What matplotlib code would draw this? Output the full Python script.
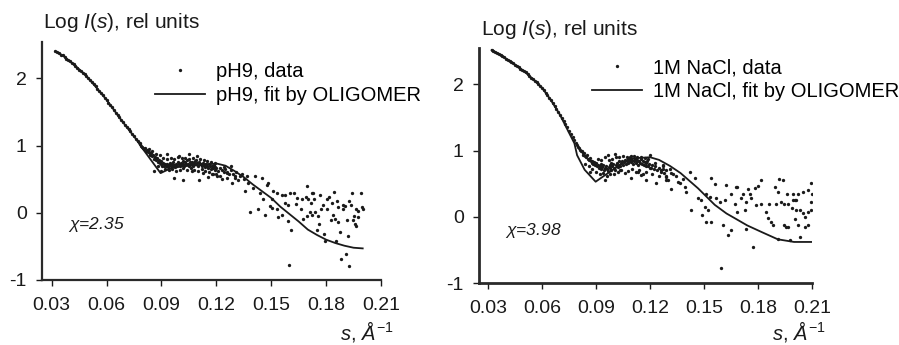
import matplotlib
matplotlib.use("Agg")
import matplotlib.pyplot as plt

plt.rcParams['font.family'] = ['Liberation Sans', 'DejaVu Sans']
plt.rcParams['mathtext.fontset'] = 'custom'
plt.rcParams['mathtext.rm'] = 'Liberation Sans'
plt.rcParams['mathtext.it'] = 'Liberation Sans:italic'

# ---------------- Left panel (pH9) ----------------
ph9_fit_s = [0.032, 0.036, 0.040, 0.044, 0.048, 0.052, 0.056, 0.060, 0.064, 0.068,
             0.072, 0.076, 0.079, 0.0895, 0.095, 0.100, 0.107, 0.114, 0.1205, 0.125,
             0.130, 0.135, 0.140, 0.145, 0.150, 0.155, 0.160, 0.165, 0.170, 0.175,
             0.180, 0.185, 0.190, 0.195, 0.200]
ph9_fit_y = [2.40, 2.34, 2.25, 2.16, 2.06, 1.94, 1.81, 1.68, 1.53, 1.38,
             1.24, 1.10, 0.98, 0.59, 0.66, 0.69, 0.70, 0.72, 0.73, 0.70,
             0.62, 0.53, 0.42, 0.32, 0.22, 0.09, -0.02, -0.13, -0.25, -0.33,
             -0.40, -0.45, -0.49, -0.52, -0.53]

ph9_s = [0.032, 0.033, 0.034, 0.035, 0.036, 0.037, 0.038, 0.039, 0.040, 0.041,
         0.042, 0.043, 0.044, 0.045, 0.046, 0.047, 0.048, 0.049, 0.050, 0.051,
         0.052, 0.053, 0.054, 0.055, 0.056, 0.057, 0.058, 0.059, 0.060, 0.061,
         0.062, 0.063, 0.064, 0.065, 0.066, 0.067, 0.068, 0.069, 0.070, 0.071,
         0.072, 0.073, 0.074, 0.075, 0.076, 0.077, 0.078,
         0.0785, 0.079, 0.0795, 0.080, 0.0805, 0.081, 0.0815, 0.082, 0.0825, 0.083,
         0.0835, 0.084, 0.0845, 0.085, 0.0855, 0.086, 0.0865, 0.087, 0.0875, 0.088,
         0.0885, 0.089, 0.0895, 0.090, 0.0905, 0.091, 0.0915, 0.092, 0.0925, 0.093,
         0.0935, 0.094, 0.0945, 0.095, 0.0955, 0.096, 0.0965, 0.097, 0.0975, 0.098,
         0.0985, 0.099, 0.0995, 0.100, 0.1005, 0.101, 0.1015, 0.102, 0.1025, 0.103,
         0.1035, 0.104, 0.1045, 0.105, 0.1055, 0.106, 0.1065, 0.107, 0.1075, 0.108,
         0.1085, 0.109, 0.1095, 0.110, 0.1105, 0.111, 0.1115, 0.112, 0.1125, 0.113,
         0.1135, 0.114, 0.1145, 0.115, 0.1155, 0.116, 0.1165, 0.117, 0.1175, 0.118,
         0.1185, 0.119, 0.1195, 0.120, 0.121, 0.122, 0.123, 0.124, 0.125, 0.126,
         0.127, 0.128, 0.129,
         0.0859, 0.0968, 0.1019, 0.1052, 0.0997, 0.1096, 0.0932, 0.1107, 0.1156, 0.1202,
         0.1229, 0.1284, 0.1256, 0.1300, 0.1065, 0.1128, 0.1174,
         0.083, 0.085, 0.087, 0.088, 0.089, 0.090, 0.091, 0.092, 0.093, 0.094,
         0.095, 0.096, 0.097, 0.098, 0.099, 0.100, 0.101, 0.102, 0.103, 0.104,
         0.105, 0.106, 0.107, 0.108, 0.109, 0.110, 0.111, 0.112, 0.113, 0.114,
         0.115, 0.116, 0.117, 0.118, 0.119, 0.120, 0.122, 0.124, 0.126, 0.128,
         0.131, 0.133, 0.135, 0.137,
         0.1411, 0.1448, 0.1484, 0.1475, 0.1374, 0.1320, 0.1356, 0.1402, 0.1438, 0.1456,
         0.1511, 0.1530, 0.1502, 0.1557, 0.1575, 0.1602, 0.1626, 0.1639, 0.1666, 0.1688,
         0.1702, 0.1721, 0.1694, 0.1575, 0.1593, 0.1633, 0.1662, 0.1502, 0.1530, 0.1493,
         0.1466, 0.1384, 0.1426, 0.1538, 0.1557, 0.1711, 0.1694, 0.1675, 0.1593, 0.1608,
         0.1597, 0.1338, 0.1302,
         0.1726, 0.1767, 0.1803, 0.1817, 0.1843, 0.1939, 0.1989, 0.1733, 0.1717, 0.1781,
         0.1830, 0.1857, 0.1893, 0.1926, 0.1934, 0.1772, 0.1803, 0.1863, 0.1890, 0.1903,
         0.1963, 0.1975, 0.1994, 0.2003, 0.1739, 0.1721, 0.1757, 0.1836, 0.1825, 0.1848,
         0.1866, 0.1912, 0.1945, 0.1975, 0.1952, 0.1762, 0.1957, 0.1966, 0.1748, 0.1788,
         0.1793, 0.1854, 0.1875, 0.1921, 0.1879, 0.1908, 0.1926]
ph9_y = [2.40, 2.39, 2.37, 2.35, 2.34, 2.32, 2.29, 2.27, 2.25, 2.23,
         2.21, 2.18, 2.16, 2.13, 2.11, 2.08, 2.06, 2.03, 2.00, 1.97,
         1.94, 1.91, 1.88, 1.84, 1.81, 1.78, 1.75, 1.71, 1.68, 1.64,
         1.61, 1.57, 1.53, 1.49, 1.46, 1.42, 1.38, 1.35, 1.31, 1.28,
         1.24, 1.21, 1.17, 1.14, 1.10, 1.07, 1.04,
         1.02, 1.00, 0.98, 0.97, 0.95, 0.96, 0.92, 0.93, 0.90, 0.91,
         0.88, 0.86, 0.89, 0.84, 0.86, 0.80, 0.83, 0.78, 0.81, 0.76,
         0.79, 0.74, 0.77, 0.72, 0.70, 0.74, 0.69, 0.72, 0.70, 0.73,
         0.68, 0.71, 0.74, 0.69, 0.72, 0.70, 0.75, 0.71, 0.68, 0.73,
         0.70, 0.76, 0.72, 0.69, 0.74, 0.71, 0.77, 0.73, 0.70, 0.75,
         0.72, 0.78, 0.73, 0.70, 0.75, 0.72, 0.76, 0.73, 0.70, 0.74,
         0.77, 0.72, 0.74, 0.70, 0.75, 0.72, 0.73, 0.69, 0.74, 0.71,
         0.72, 0.68, 0.73, 0.70, 0.66, 0.72, 0.69, 0.65, 0.70, 0.67,
         0.71, 0.64, 0.68, 0.66, 0.62, 0.67, 0.63, 0.60, 0.65, 0.61,
         0.58, 0.63, 0.57,
         0.62, 0.52, 0.48, 0.88, 0.84, 0.85, 0.87, 0.49, 0.53, 0.54,
         0.50, 0.45, 0.59, 0.54, 0.62, 0.59, 0.57,
         0.95, 0.92, 0.88, 0.70, 0.86, 0.62, 0.82, 0.65, 0.80, 0.63,
         0.82, 0.65, 0.80, 0.62, 0.83, 0.64, 0.81, 0.66, 0.82, 0.63,
         0.80, 0.67, 0.82, 0.64, 0.79, 0.62, 0.80, 0.65, 0.78, 0.62,
         0.77, 0.60, 0.76, 0.58, 0.74, 0.57, 0.55, 0.68, 0.52, 0.70,
         0.60, 0.55, 0.50, 0.55,
         0.54, 0.52, 0.45, 0.42, 0.45, 0.49, 0.32, 0.37, 0.30, 0.20,
         0.32, 0.30, 0.21, 0.26, 0.27, 0.29, 0.30, 0.22, 0.21, 0.24,
         0.21, 0.30, 0.40, 0.15, 0.12, 0.13, 0.06, 0.07, 0.06, 0.10,
         -0.04, 0.01, 0.06, -0.07, -0.03, 0.01, -0.05, -0.10, -0.12, -0.25,
         -0.78, 0.57, 0.52,
         0.29, 0.26, 0.20, 0.24, 0.31, 0.30, 0.29, 0.20, 0.15, 0.11,
         0.15, 0.17, 0.12, 0.18, 0.12, 0.05, 0.06, 0.08, 0.06, 0.10,
         0.06, 0.02, 0.09, 0.05, 0.01, -0.04, -0.05, -0.04, -0.11, -0.09,
         -0.14, -0.11, -0.11, -0.06, -0.05, -0.17, -0.16, -0.20, -0.25, -0.31,
         -0.42, -0.42, -0.29, -0.35, -0.69, -0.62, -0.79]

# ---------------- Right panel (1M NaCl) ----------------
nacl_fit_s = [0.032, 0.036, 0.040, 0.045, 0.050, 0.055, 0.060, 0.065, 0.070, 0.075,
              0.078, 0.0795, 0.0837, 0.0898, 0.094, 0.0994, 0.106, 0.109, 0.120, 0.125,
              0.131, 0.137, 0.1467, 0.156, 0.1625, 0.167, 0.174, 0.182, 0.191, 0.200,
              0.210]
nacl_fit_y = [2.52, 2.46, 2.39, 2.30, 2.20, 2.08, 1.95, 1.76, 1.54, 1.27,
              1.11, 0.93, 0.71, 0.53, 0.61, 0.71, 0.83, 0.88, 0.90, 0.86,
              0.77, 0.66, 0.43, 0.18, 0.05, -0.02, -0.13, -0.23, -0.34, -0.38,
              -0.38]

nacl_s = [0.032, 0.033, 0.034, 0.035, 0.036, 0.037, 0.038, 0.039, 0.040, 0.041,
          0.042, 0.043, 0.044, 0.045, 0.046, 0.047, 0.048, 0.049, 0.050, 0.051,
          0.052, 0.053, 0.054, 0.055, 0.056, 0.057, 0.058, 0.059, 0.060, 0.061,
          0.062, 0.063, 0.064, 0.065, 0.066, 0.067, 0.068, 0.069, 0.070, 0.071,
          0.072, 0.073, 0.074, 0.075, 0.076, 0.077, 0.078, 0.079,
          0.0795, 0.080, 0.0805, 0.081, 0.0815, 0.082, 0.0825, 0.083, 0.0835, 0.084,
          0.0845, 0.085, 0.0855, 0.086, 0.0865, 0.087, 0.0875, 0.088, 0.0885, 0.089,
          0.0895, 0.090, 0.0905, 0.091, 0.0915, 0.092, 0.0925, 0.093, 0.0935, 0.094,
          0.0945, 0.095, 0.0955, 0.096, 0.0965, 0.097, 0.0975, 0.098, 0.0985, 0.099,
          0.0995, 0.100, 0.1005, 0.101, 0.1015, 0.102, 0.1025, 0.103, 0.1035, 0.104,
          0.1045, 0.105, 0.1055, 0.106, 0.1065, 0.107, 0.1075, 0.108, 0.1085, 0.109,
          0.1095, 0.110, 0.1105, 0.111, 0.1115, 0.112, 0.1125, 0.113, 0.1135, 0.114,
          0.1145, 0.115, 0.1155, 0.116, 0.1165, 0.117, 0.1175, 0.118, 0.1185, 0.119,
          0.1195, 0.120, 0.121, 0.122, 0.123, 0.124, 0.125, 0.126, 0.127, 0.128,
          0.129,
          0.0948, 0.0865, 0.0967, 0.1004, 0.1097, 0.1198, 0.1032, 0.1097, 0.1133, 0.1152,
          0.1180, 0.1208, 0.1236, 0.1263, 0.1291, 0.1272, 0.0986,
          0.084, 0.086, 0.088, 0.090, 0.091, 0.092, 0.093, 0.094, 0.095, 0.096,
          0.097, 0.098, 0.099, 0.100, 0.101, 0.102, 0.103, 0.104, 0.105, 0.106,
          0.107, 0.108, 0.109, 0.110, 0.111, 0.112, 0.113, 0.114, 0.115, 0.116,
          0.117, 0.118, 0.119, 0.121, 0.123, 0.125, 0.127, 0.129, 0.131, 0.133,
          0.1319, 0.1347, 0.1300, 0.1365, 0.1393, 0.1421, 0.1448, 0.1319, 0.1402, 0.1467,
          0.1486, 0.1513, 0.1541, 0.1560, 0.1532, 0.1569, 0.1587, 0.1615, 0.1624, 0.1652,
          0.1680, 0.1672, 0.1503, 0.1522, 0.1430, 0.1489, 0.1513, 0.1541, 0.1606, 0.1652,
          0.1633, 0.1597, 0.1291, 0.1356, 0.1383,
          0.1686, 0.1717, 0.1744, 0.1754, 0.1782, 0.1800, 0.1815, 0.1708, 0.1736, 0.1763,
          0.1791, 0.1819, 0.1681, 0.1728, 0.1845, 0.1854, 0.1873, 0.1882, 0.1863, 0.1900,
          0.1927, 0.1946, 0.1964, 0.1894, 0.1919, 0.1941, 0.1913, 0.1959, 0.1996, 0.2024,
          0.2052, 0.2080, 0.2096, 0.2098, 0.1996, 0.2005, 0.2013, 0.1987, 0.2013, 0.2032,
          0.2052, 0.2061, 0.2080, 0.2094, 0.2097, 0.2005, 0.2024, 0.2061, 0.2078, 0.1946,
          0.1955, 0.1964, 0.2032, 0.1911, 0.1976, 0.1772, 0.1736]
nacl_y = [2.52, 2.51, 2.49, 2.48, 2.46, 2.45, 2.43, 2.41, 2.39, 2.37,
          2.35, 2.34, 2.32, 2.30, 2.28, 2.26, 2.24, 2.22, 2.20, 2.18,
          2.15, 2.13, 2.10, 2.08, 2.05, 2.03, 2.00, 1.98, 1.95, 1.91,
          1.87, 1.84, 1.80, 1.76, 1.72, 1.67, 1.63, 1.58, 1.54, 1.50,
          1.45, 1.40, 1.35, 1.30, 1.25, 1.21, 1.16, 1.12,
          1.09, 1.06, 1.04, 1.01, 0.99, 1.00, 0.96, 0.94, 0.97, 0.92,
          0.90, 0.93, 0.88, 0.86, 0.89, 0.84, 0.82, 0.85, 0.80, 0.83,
          0.78, 0.81, 0.76, 0.79, 0.74, 0.77, 0.80, 0.72, 0.75, 0.78,
          0.70, 0.74, 0.77, 0.72, 0.69, 0.75, 0.79, 0.73, 0.70, 0.76,
          0.80, 0.74, 0.71, 0.78, 0.82, 0.75, 0.79, 0.84, 0.77, 0.81,
          0.85, 0.79, 0.83, 0.86, 0.80, 0.84, 0.87, 0.82, 0.85, 0.88,
          0.83, 0.86, 0.80, 0.85, 0.87, 0.82, 0.86, 0.84, 0.79, 0.85,
          0.82, 0.87, 0.80, 0.84, 0.78, 0.83, 0.76, 0.81, 0.85, 0.77,
          0.80, 0.74, 0.78, 0.72, 0.76, 0.70, 0.74, 0.68, 0.72, 0.66,
          0.70,
          0.56, 0.68, 0.93, 0.95, 0.92, 0.93, 0.71, 0.59, 0.68, 0.63,
          0.56, 0.73, 0.51, 0.71, 0.56, 0.76, 0.81,
          0.80, 0.76, 0.72, 0.68, 0.88, 0.64, 0.86, 0.66, 0.90, 0.62,
          0.86, 0.64, 0.88, 0.65, 0.91, 0.68, 0.90, 0.70, 0.92, 0.66,
          0.91, 0.69, 0.90, 0.72, 0.92, 0.67, 0.90, 0.70, 0.91, 0.65,
          0.89, 0.68, 0.88, 0.64, 0.82, 0.62, 0.79, 0.60, 0.72, 0.65,
          0.66, 0.61, 0.56, 0.51, 0.45, 0.68, 0.58, 0.42, 0.38, 0.28,
          0.25, 0.35, 0.58, 0.50, 0.30, 0.28, 0.23, 0.25, 0.48, 0.35,
          0.45, 0.20, 0.15, 0.11, 0.10, 0.03, -0.08, -0.08, -0.13, -0.20,
          -0.28, -0.78, 0.62, 0.53, 0.57,
          0.45, 0.35, 0.42, 0.35, 0.43, 0.47, 0.56, 0.28, 0.23, 0.28,
          0.18, 0.20, 0.08, 0.10, 0.08, -0.02, -0.08, -0.13, 0.20, 0.20,
          0.23, 0.20, 0.20, 0.45, 0.57, 0.55, 0.38, 0.35, 0.35, 0.35,
          0.38, 0.40, 0.51, 0.35, 0.26, 0.26, 0.26, 0.13, 0.10, 0.10,
          0.05, 0.00, 0.08, 0.23, 0.10, -0.04, -0.13, -0.15, -0.13, -0.13,
          -0.15, -0.15, -0.31, -0.34, -0.35, -0.46, -0.19]

y_ticks = [-1, 0, 1, 2]
x_ticks = [0.03, 0.06, 0.09, 0.12, 0.15, 0.18, 0.21]
x_tick_labels = ['0.03', '0.06', '0.09', '0.12', '0.15', '0.18', '0.21']

W, H = 899, 345
fig = plt.figure(figsize=(W / 100, H / 100), dpi=100)

ink = '#1a1a1a'

def setup(ax, xlim, ylim, spine_lw):
    ax.set_xlim(*xlim)
    ax.set_ylim(*ylim)
    for side in ('top', 'right'):
        ax.spines[side].set_visible(False)
    for side in ('left', 'bottom'):
        ax.spines[side].set_linewidth(spine_lw)
        ax.spines[side].set_color('#2a2a2a')
    ax.set_xticks(x_ticks)
    ax.set_xticklabels(x_tick_labels)
    ax.set_yticks(y_ticks)
    ax.set_yticklabels([str(v) for v in y_ticks])
    ax.tick_params(axis='x', direction='out', length=4, width=1.0, pad=8,
                   labelsize=14, colors=ink)
    ax.tick_params(axis='y', direction='out', length=4, width=1.0, pad=7,
                   labelsize=14, colors=ink)
    ax.patch.set_alpha(0)

def px_axes(x0, y0, x1, y1):
    return fig.add_axes([x0 / W, 1 - y1 / H, (x1 - x0) / W, (y1 - y0) / H])

panels = [
    dict(box=(42, 42, 381, 280), xlim=(0.0247, 0.21), ylim=(-1, 2.54), lw=1.6,
         s=ph9_s, y=ph9_y, fs=ph9_fit_s, fy=ph9_fit_y,
         labels=('pH9, data', 'pH9, fit by OLIGOMER'), legend_x=155, legend_y=62,
         chi=r'$\chi$=2.35', chi_pos=(0.0389, -0.17),
         ylab_pos=(43, 28), xlab_pos=(340, 340)),
    dict(box=(479, 48, 812, 283), xlim=(0.025, 0.21), ylim=(-1, 2.55), lw=2.0,
         s=nacl_s, y=nacl_y, fs=nacl_fit_s, fy=nacl_fit_y,
         labels=('1M NaCl, data', '1M NaCl, fit by OLIGOMER'), legend_x=592, legend_y=58,
         chi=r'$\chi$=3.98', chi_pos=(0.0393, -0.20),
         ylab_pos=(481, 35), xlab_pos=(772, 340)),
]

for p in panels:
    ax = px_axes(*p['box'])
    setup(ax, p['xlim'], p['ylim'], p['lw'])
    dots, = ax.plot(p['s'], p['y'], linestyle='none', marker='o', markersize=2.4,
                    markeredgewidth=0, color=ink)
    fitl, = ax.plot(p['fs'], p['fy'], color=ink, linewidth=1.3)
    fig.legend([dots, fitl], list(p['labels']), loc='upper left',
               bbox_to_anchor=(p['legend_x'] / W, 1 - p['legend_y'] / H),
               frameon=False, fontsize=14.5, numpoints=1, markerscale=1.0,
               handlelength=2.5, handletextpad=0.55, labelspacing=0.25,
               borderpad=0, borderaxespad=0)
    ax.text(p['chi_pos'][0], p['chi_pos'][1], p['chi'],
            fontsize=12.5, style='italic', ha='left', va='center', color=ink,
            family=['Liberation Sans', 'DejaVu Sans'])
    fig.text(p['ylab_pos'][0] / W, 1 - p['ylab_pos'][1] / H,
             r'Log $I$($s$), rel units', fontsize=15, ha='left', va='baseline', color=ink)
    fig.text(p['xlab_pos'][0] / W, 1 - p['xlab_pos'][1] / H,
             r'$s$, $\mathit{Å}^{\mathit{-1}}$', fontsize=14.5, ha='left', va='baseline', color=ink)

fig.savefig('out.png', dpi=100)
